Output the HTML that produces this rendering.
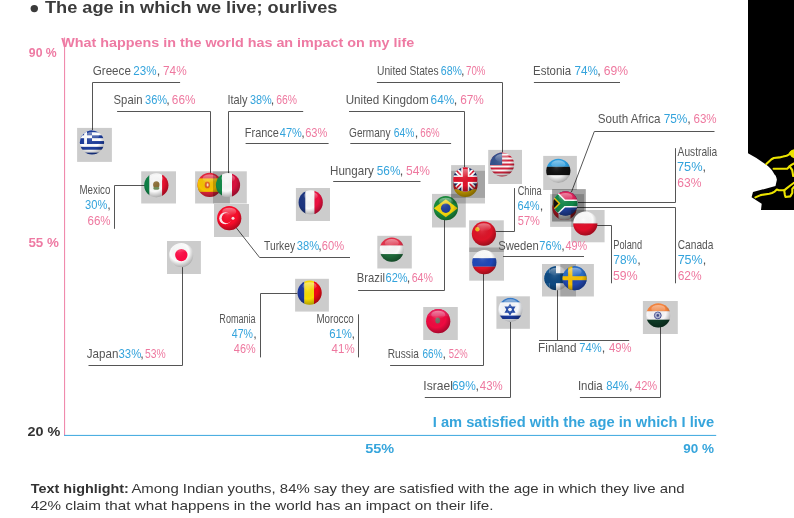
<!DOCTYPE html><html><head><meta charset="utf-8"><style>html,body{margin:0;padding:0;background:#fff;width:794px;height:518px;overflow:hidden}svg{display:block;font-family:"Liberation Sans",sans-serif;will-change:transform}</style></head><body>
<svg width="794" height="518" viewBox="0 0 794 518">
<defs><clipPath id="cc"><circle r="12.1"/></clipPath><radialGradient id="shade" cx="0.42" cy="0.36" r="0.66"><stop offset="0" stop-color="#fff" stop-opacity="0.12"/><stop offset="0.6" stop-color="#000" stop-opacity="0"/><stop offset="1" stop-color="#000" stop-opacity="0.32"/></radialGradient><linearGradient id="hl" x1="0" y1="0" x2="0" y2="1"><stop offset="0" stop-color="#fff" stop-opacity="0.45"/><stop offset="1" stop-color="#fff" stop-opacity="0"/></linearGradient></defs>
<circle cx="34.3" cy="8.6" r="3.7" fill="#3b3b3b"/>
<rect x="64.1" y="37.5" width="1" height="398.2" fill="#ef7fa5"/>
<rect x="64.1" y="434.9" width="652.1" height="1" fill="#3aa7de"/>
<g fill="none" stroke="#555555" stroke-width="1" stroke-linecap="square">
<path d="M92.50,130.00 L92.50,82.50 L179.60,82.50"/>
<path d="M117.60,111.50 L210.50,111.50 L210.50,174.00"/>
<path d="M302.70,111.50 L228.50,111.50 L228.50,174.00"/>
<path d="M246.10,143.50 L328.10,143.50"/>
<path d="M350.80,143.50 L450.60,143.50"/>
<path d="M349.50,111.50 L464.50,111.50 L464.50,168.00"/>
<path d="M377.40,82.50 L502.50,82.50 L502.50,153.00"/>
<path d="M534.40,82.50 L619.50,82.50"/>
<path d="M714.00,131.50 L594.30,131.50 L571.60,191.60"/>
<path d="M333.70,181.50 L420.00,181.50"/>
<path d="M145.00,185.50 L114.50,185.50 L114.50,228.30"/>
<path d="M236.00,227.50 L259.60,257.50 L349.50,257.50"/>
<path d="M182.50,267.00 L182.50,365.50 L89.00,365.50"/>
<path d="M444.50,219.00 L444.50,290.50 L358.60,290.50"/>
<path d="M495.90,231.50 L514.50,231.50 L514.50,188.60"/>
<path d="M578.00,202.50 L675.50,202.50 L675.50,148.70"/>
<path d="M577.00,207.50 L675.50,207.50 L675.50,282.80"/>
<path d="M597.00,225.50 L611.50,225.50 L611.50,282.80"/>
<path d="M503.60,256.50 L583.50,256.50"/>
<path d="M483.50,274.00 L483.50,365.50 L390.60,365.50"/>
<path d="M296.90,293.50 L260.50,293.50 L260.50,356.90"/>
<path d="M358.50,314.80 L358.50,356.90"/>
<path d="M510.50,321.00 L510.50,397.50 L425.30,397.50"/>
<path d="M557.50,290.00 L557.50,340.40"/>
<path d="M539.60,340.50 L628.70,340.50"/>
<path d="M660.50,327.00 L660.50,397.50 L580.40,397.50"/>
</g>
<rect x="77.1" y="127.9" width="34.8" height="34.0" fill="#000" fill-opacity="0.2"/><g transform="translate(92.00,142.50)"><g clip-path="url(#cc)"><rect x="-13" y="-13" width="26" height="26" fill="#fff"/><rect x="-13" y="-13.00" width="26" height="2.89" fill="#1d3d9c"/><rect x="-13" y="-7.22" width="26" height="2.89" fill="#1d3d9c"/><rect x="-13" y="-1.44" width="26" height="2.89" fill="#1d3d9c"/><rect x="-13" y="4.33" width="26" height="2.89" fill="#1d3d9c"/><rect x="-13" y="10.11" width="26" height="2.89" fill="#1d3d9c"/><rect x="-13" y="-13" width="13" height="14.4" fill="#1d3d9c"/><rect x="-13" y="-7.2" width="13" height="2.9" fill="#fff"/><rect x="-7.9" y="-13" width="2.9" height="14.4" fill="#fff"/></g><circle r="12.1" fill="url(#shade)"/><ellipse cx="0" cy="-6.5" rx="7" ry="4" fill="url(#hl)"/></g>
<rect x="141.2" y="171.3" width="34.8" height="32.2" fill="#000" fill-opacity="0.2"/><g transform="translate(156.30,185.30)"><g clip-path="url(#cc)"><rect x="-13" y="-13" width="6.2" height="26" fill="#0f7f45"/><rect x="-6.8" y="-13" width="12.6" height="26" fill="#f8f8f8"/><rect x="5.8" y="-13" width="7.2" height="26" fill="#e8102e"/><ellipse cx="0" cy="-0.5" rx="3.2" ry="3.6" fill="#8a6a30"/><ellipse cx="0" cy="3" rx="3" ry="1.5" fill="#6f8f5a"/></g><circle r="12.1" fill="url(#shade)"/><ellipse cx="0" cy="-6.5" rx="7" ry="4" fill="url(#hl)"/></g>
<rect x="195.1" y="171.3" width="34.8" height="32.2" fill="#000" fill-opacity="0.2"/><g transform="translate(209.60,184.90)"><g clip-path="url(#cc)"><rect x="-13" y="-13" width="26" height="26" fill="#e4243c"/><rect x="-13" y="-6.5" width="26" height="13.5" fill="#f6c200"/><ellipse cx="-2.3" cy="0" rx="2.6" ry="3.4" fill="#e05a1a"/><ellipse cx="-2" cy="0" rx="1" ry="1.6" fill="#f8e0c0"/></g><circle r="12.1" fill="url(#shade)"/><ellipse cx="0" cy="-6.5" rx="7" ry="4" fill="url(#hl)"/></g>
<rect x="213.0" y="171.3" width="33.8" height="32.2" fill="#000" fill-opacity="0.2"/><g transform="translate(228.00,185.00)"><g clip-path="url(#cc)"><rect x="-13" y="-13" width="7.0" height="26" fill="#128a48"/><rect x="-6" y="-13" width="10.0" height="26" fill="#fafafa"/><rect x="4" y="-13" width="9.0" height="26" fill="#d8123e"/></g><circle r="12.1" fill="url(#shade)"/><ellipse cx="0" cy="-6.5" rx="7" ry="4" fill="url(#hl)"/></g>
<rect x="214.0" y="204.0" width="35.0" height="33.0" fill="#000" fill-opacity="0.2"/><g transform="translate(229.20,218.20)"><g clip-path="url(#cc)"><rect x="-13" y="-13" width="26" height="26" fill="#f80c2a"/><circle cx="-4" cy="0" r="6" fill="#fde6ea"/><circle cx="-2.4" cy="0" r="5.1" fill="#f80c2a"/><circle cx="3.8" cy="0" r="1.5" fill="#fde6ea"/></g><circle r="12.1" fill="url(#shade)"/><ellipse cx="0" cy="-6.5" rx="7" ry="4" fill="url(#hl)"/></g>
<rect x="167.0" y="241.0" width="33.9" height="33.0" fill="#000" fill-opacity="0.2"/><g transform="translate(181.30,255.10)"><g clip-path="url(#cc)"><rect x="-13" y="-13" width="26" height="26" fill="#fbfbfb"/><circle cx="0" cy="0" r="6.2" fill="#ff0a44"/></g><circle r="12.1" fill="url(#shade)"/><ellipse cx="0" cy="-6.5" rx="7" ry="4" fill="url(#hl)"/></g>
<rect x="295.9" y="188.0" width="34.1" height="33.0" fill="#000" fill-opacity="0.2"/><g transform="translate(310.70,202.40)"><g clip-path="url(#cc)"><rect x="-13" y="-13" width="7.8" height="26" fill="#1c3580"/><rect x="-5.2" y="-13" width="9.0" height="26" fill="#fafafa"/><rect x="3.8" y="-13" width="9.2" height="26" fill="#ec1040"/></g><circle r="12.1" fill="url(#shade)"/><ellipse cx="0" cy="-6.5" rx="7" ry="4" fill="url(#hl)"/></g>
<rect x="377.3" y="235.8" width="34.5" height="32.7" fill="#000" fill-opacity="0.2"/><g transform="translate(391.80,249.60)"><g clip-path="url(#cc)"><rect x="-13" y="-13" width="26" height="9" fill="#e3324b"/><rect x="-13" y="-4" width="26" height="8.5" fill="#fafafa"/><rect x="-13" y="4.5" width="26" height="9" fill="#1e6a3a"/></g><circle r="12.1" fill="url(#shade)"/><ellipse cx="0" cy="-6.5" rx="7" ry="4" fill="url(#hl)"/></g>
<rect x="432.0" y="193.9" width="33.8" height="33.6" fill="#000" fill-opacity="0.2"/><g transform="translate(445.80,208.20)"><g clip-path="url(#cc)"><rect x="-13" y="-13" width="26" height="26" fill="#1a8a3c"/><polygon points="0,-9 12,0 0,9 -12,0" fill="#f2d40c"/><circle cx="0" cy="0" r="4.8" fill="#1f3f9a"/></g><circle r="12.1" fill="url(#shade)"/><ellipse cx="0" cy="-6.5" rx="7" ry="4" fill="url(#hl)"/></g>
<rect x="451.1" y="170.8" width="33.9" height="32.7" fill="#000" fill-opacity="0.2"/><g transform="translate(465.50,185.00)"><g clip-path="url(#cc)"><rect x="-13" y="-13" width="26" height="9" fill="#222"/><rect x="-13" y="-4" width="26" height="8.5" fill="#d81920"/><rect x="-13" y="4.5" width="26" height="9" fill="#e8b800"/></g><circle r="12.1" fill="url(#shade)"/><ellipse cx="0" cy="-6.5" rx="7" ry="4" fill="url(#hl)"/></g>
<rect x="451.1" y="165.1" width="33.9" height="32.8" fill="#000" fill-opacity="0.2"/><g transform="translate(465.30,179.40)"><g clip-path="url(#cc)"><rect x="-13" y="-13" width="26" height="26" fill="#1a2c66"/><path d="M-13,-13 L13,13 M13,-13 L-13,13" stroke="#fff" stroke-width="5"/><path d="M-13,-13 L13,13 M13,-13 L-13,13" stroke="#e0142b" stroke-width="1.6"/><rect x="-13" y="-4" width="26" height="8" fill="#fff"/><rect x="-4" y="-13" width="8" height="26" fill="#fff"/><rect x="-13" y="-2.5" width="26" height="5" fill="#e0142b"/><rect x="-2.5" y="-13" width="5" height="26" fill="#e0142b"/></g><circle r="12.1" fill="url(#shade)"/><ellipse cx="0" cy="-6.5" rx="7" ry="4" fill="url(#hl)"/></g>
<rect x="488.2" y="149.9" width="33.8" height="34.1" fill="#000" fill-opacity="0.2"/><g transform="translate(502.10,164.50)"><g clip-path="url(#cc)"><rect x="-13" y="-13" width="26" height="26" fill="#fafafa"/><rect x="-13" y="-13.0" width="26" height="2" fill="#d3223c"/><rect x="-13" y="-9.0" width="26" height="2" fill="#d3223c"/><rect x="-13" y="-5.0" width="26" height="2" fill="#d3223c"/><rect x="-13" y="-1.0" width="26" height="2" fill="#d3223c"/><rect x="-13" y="3.0" width="26" height="2" fill="#d3223c"/><rect x="-13" y="7.0" width="26" height="2" fill="#d3223c"/><rect x="-13" y="11.0" width="26" height="2" fill="#d3223c"/><rect x="-13" y="-13" width="13" height="13.5" fill="#34508c"/></g><circle r="12.1" fill="url(#shade)"/><ellipse cx="0" cy="-6.5" rx="7" ry="4" fill="url(#hl)"/></g>
<rect x="543.2" y="155.9" width="33.7" height="34.1" fill="#000" fill-opacity="0.2"/><g transform="translate(558.30,170.80)"><g clip-path="url(#cc)"><rect x="-13" y="-13" width="26" height="9" fill="#2a9de0"/><rect x="-13" y="-4" width="26" height="8.5" fill="#111"/><rect x="-13" y="4.5" width="26" height="9" fill="#f5f5f5"/></g><circle r="12.1" fill="url(#shade)"/><ellipse cx="0" cy="-6.5" rx="7" ry="4" fill="url(#hl)"/></g>
<rect x="550.1" y="194.1" width="33.9" height="32.8" fill="#000" fill-opacity="0.2"/><g transform="translate(564.50,208.00)"><g clip-path="url(#cc)"><rect x="-13" y="-13" width="26" height="26" fill="#e0202c"/><rect x="-6" y="-13" width="12" height="26" fill="#fafafa"/><circle cx="0" cy="0" r="3" fill="#e0202c"/></g><circle r="12.1" fill="url(#shade)"/><ellipse cx="0" cy="-6.5" rx="7" ry="4" fill="url(#hl)"/></g>
<rect x="552.1" y="189.1" width="33.7" height="32.4" fill="#000" fill-opacity="0.2"/><g transform="translate(565.50,203.40)"><g clip-path="url(#cc)"><rect x="-13" y="-13" width="26" height="26" fill="#1c2f7f"/><circle cx="5" cy="4" r="1" fill="#fff"/></g><circle r="12.1" fill="url(#shade)"/><ellipse cx="0" cy="-6.5" rx="7" ry="4" fill="url(#hl)"/></g>
<rect x="552.1" y="189.1" width="33.7" height="32.4" fill="#000" fill-opacity="0.2"/><g transform="translate(565.50,203.40)"><g clip-path="url(#cc)"><rect x="-13" y="-13" width="26" height="13" fill="#e0245a"/><rect x="-13" y="0" width="26" height="13" fill="#1f3e96"/><path d="M-14,-12 L-2,0 L-14,12 M-2,0 L14,0" stroke="#fff" stroke-width="8" fill="none"/><path d="M-14,-12 L-2,0 L-14,12 M-2,0 L14,0" stroke="#12884a" stroke-width="5" fill="none"/><polygon points="-13,-8 -5,0 -13,8" fill="#f2c200"/><polygon points="-13,-6 -7,0 -13,6" fill="#111"/></g><circle r="12.1" fill="url(#shade)"/><ellipse cx="0" cy="-6.5" rx="7" ry="4" fill="url(#hl)"/></g>
<rect x="571.2" y="210.0" width="33.4" height="32.3" fill="#000" fill-opacity="0.2"/><g transform="translate(585.30,223.50)"><g clip-path="url(#cc)"><rect x="-13" y="-13" width="26" height="13" fill="#fafafa"/><rect x="-13" y="0" width="26" height="13" fill="#e20f2a"/></g><circle r="12.1" fill="url(#shade)"/><ellipse cx="0" cy="-6.5" rx="7" ry="4" fill="url(#hl)"/></g>
<rect x="469.1" y="220.3" width="34.7" height="31.7" fill="#000" fill-opacity="0.2"/><g transform="translate(483.90,233.70)"><g clip-path="url(#cc)"><rect x="-13" y="-13" width="26" height="26" fill="#dd1428"/><circle cx="-6.5" cy="-4.5" r="2.2" fill="#f2b61a"/></g><circle r="12.1" fill="url(#shade)"/><ellipse cx="0" cy="-6.5" rx="7" ry="4" fill="url(#hl)"/></g>
<rect x="469.2" y="247.5" width="34.8" height="33.2" fill="#000" fill-opacity="0.2"/><g transform="translate(484.30,262.20)"><g clip-path="url(#cc)"><rect x="-13" y="-13" width="26" height="9" fill="#fafafa"/><rect x="-13" y="-4" width="26" height="8.5" fill="#1f48b8"/><rect x="-13" y="4.5" width="26" height="9" fill="#e11427"/></g><circle r="12.1" fill="url(#shade)"/><ellipse cx="0" cy="-6.5" rx="7" ry="4" fill="url(#hl)"/></g>
<rect x="542.0" y="264.0" width="34.0" height="32.5" fill="#000" fill-opacity="0.2"/><g transform="translate(556.50,278.20)"><g clip-path="url(#cc)"><rect x="-13" y="-13" width="26" height="26" fill="#f4f4f4"/><rect x="-13" y="-13" width="6" height="26" fill="#1a5c96"/><rect x="-13" y="-5" width="26" height="10" fill="#0e4a82"/><rect x="-7" y="-13" width="6.5" height="26" fill="#0e4a82"/></g><circle r="12.1" fill="url(#shade)"/><ellipse cx="0" cy="-6.5" rx="7" ry="4" fill="url(#hl)"/></g>
<rect x="560.3" y="264.0" width="33.6" height="32.5" fill="#000" fill-opacity="0.2"/><g transform="translate(574.60,278.20)"><g clip-path="url(#cc)"><rect x="-13" y="-13" width="26" height="26" fill="#2a6cc4"/><rect x="-13" y="2" width="26" height="11" fill="#2248b0"/><rect x="-13" y="-2" width="26" height="4" fill="#f6c000"/><rect x="-6.5" y="-13" width="4.3" height="26" fill="#f6c000"/></g><circle r="12.1" fill="url(#shade)"/><ellipse cx="0" cy="-6.5" rx="7" ry="4" fill="url(#hl)"/></g>
<rect x="295.1" y="278.8" width="33.8" height="32.8" fill="#000" fill-opacity="0.2"/><g transform="translate(309.60,292.70)"><g clip-path="url(#cc)"><rect x="-13" y="-13" width="7.8" height="26" fill="#1c38a0"/><rect x="-5.2" y="-13" width="9.6" height="26" fill="#f8dc00"/><rect x="4.4" y="-13" width="8.6" height="26" fill="#f00a14"/></g><circle r="12.1" fill="url(#shade)"/><ellipse cx="0" cy="-6.5" rx="7" ry="4" fill="url(#hl)"/></g>
<rect x="423.2" y="307.0" width="34.6" height="33.0" fill="#000" fill-opacity="0.2"/><g transform="translate(438.20,321.20)"><g clip-path="url(#cc)"><rect x="-13" y="-13" width="26" height="26" fill="#ee0a40"/><rect x="-13" y="-13" width="26" height="8" fill="#e8205a"/><ellipse cx="-0.5" cy="-0.8" rx="2.4" ry="3" fill="#6a6f62"/></g><circle r="12.1" fill="url(#shade)"/><ellipse cx="0" cy="-6.5" rx="7" ry="4" fill="url(#hl)"/></g>
<rect x="496.4" y="296.3" width="33.5" height="32.5" fill="#000" fill-opacity="0.2"/><g transform="translate(510.50,309.80)"><g clip-path="url(#cc)"><rect x="-13" y="-13" width="26" height="26" fill="#f6f8fc"/><rect x="-13" y="-13" width="26" height="5.5" fill="#3a7cc8"/><rect x="-13" y="5.8" width="26" height="3.4" fill="#1a3aa0"/><polygon points="-0.5,-5 3.8,2.2 -4.8,2.2" fill="none" stroke="#2048a8" stroke-width="1.4"/><polygon points="-0.5,4.6 3.8,-2.6 -4.8,-2.6" fill="none" stroke="#2048a8" stroke-width="1.4"/></g><circle r="12.1" fill="url(#shade)"/><ellipse cx="0" cy="-6.5" rx="7" ry="4" fill="url(#hl)"/></g>
<rect x="642.9" y="301.0" width="34.9" height="33.0" fill="#000" fill-opacity="0.2"/><g transform="translate(658.30,315.40)"><g clip-path="url(#cc)"><rect x="-13" y="-13" width="26" height="9" fill="#f6843e"/><rect x="-13" y="-4" width="26" height="8.3" fill="#f8f6f8"/><rect x="-13" y="4.3" width="26" height="9" fill="#0e3a26"/><circle cx="-0.5" cy="0" r="3.4" fill="#b8bcd8" stroke="#4a5294" stroke-width="1"/><circle cx="-0.5" cy="0" r="1.3" fill="#3a4488"/></g><circle r="12.1" fill="url(#shade)"/><ellipse cx="0" cy="-6.5" rx="7" ry="4" fill="url(#hl)"/></g>
<text class="tg" x="92.72" y="74.8" font-size="12.6" fill="#555555" textLength="38.15" lengthAdjust="spacingAndGlyphs">Greece</text>
<text class="tb" x="133.34" y="74.8" font-size="12.6" fill="#33a3dc" textLength="23.23" lengthAdjust="spacingAndGlyphs">23%</text>
<text class="tp" x="163.05" y="74.8" font-size="12.6" fill="#ee789f" textLength="23.61" lengthAdjust="spacingAndGlyphs">74%</text>
<text class="tg" x="113.59" y="104.4" font-size="12.6" fill="#555555" textLength="28.86" lengthAdjust="spacingAndGlyphs">Spain</text>
<text class="tb" x="145.06" y="104.4" font-size="12.6" fill="#33a3dc" textLength="22.13" lengthAdjust="spacingAndGlyphs">36%</text>
<text class="tp" x="171.83" y="104.4" font-size="12.6" fill="#ee789f" textLength="23.63" lengthAdjust="spacingAndGlyphs">66%</text>
<text class="tg" x="227.39" y="104.4" font-size="12.6" fill="#555555" textLength="20.15" lengthAdjust="spacingAndGlyphs">Italy</text>
<text class="tb" x="249.89" y="104.4" font-size="12.6" fill="#33a3dc" textLength="21.83" lengthAdjust="spacingAndGlyphs">38%</text>
<text class="tp" x="276.29" y="104.4" font-size="12.6" fill="#ee789f" textLength="20.81" lengthAdjust="spacingAndGlyphs">66%</text>
<text class="tg" x="244.83" y="137.2" font-size="12.6" fill="#555555" textLength="34.06" lengthAdjust="spacingAndGlyphs">France</text>
<text class="tb" x="279.75" y="137.2" font-size="12.6" fill="#33a3dc" textLength="22.09" lengthAdjust="spacingAndGlyphs">47%</text>
<text class="tp" x="305.16" y="137.2" font-size="12.6" fill="#ee789f" textLength="22.18" lengthAdjust="spacingAndGlyphs">63%</text>
<text class="tg" x="349.07" y="137.2" font-size="12.6" fill="#555555" textLength="41.42" lengthAdjust="spacingAndGlyphs">Germany</text>
<text class="tb" x="393.85" y="137.2" font-size="12.6" fill="#33a3dc" textLength="20.64" lengthAdjust="spacingAndGlyphs">64%</text>
<text class="tp" x="420.33" y="137.2" font-size="12.6" fill="#ee789f" textLength="19.36" lengthAdjust="spacingAndGlyphs">66%</text>
<text class="tg" x="345.64" y="103.8" font-size="12.6" fill="#555555" textLength="82.99" lengthAdjust="spacingAndGlyphs">United Kingdom</text>
<text class="tb" x="430.60" y="103.8" font-size="12.6" fill="#33a3dc" textLength="23.61" lengthAdjust="spacingAndGlyphs">64%</text>
<text class="tp" x="460.17" y="103.8" font-size="12.6" fill="#ee789f" textLength="23.67" lengthAdjust="spacingAndGlyphs">67%</text>
<text class="tg" x="377.03" y="74.7" font-size="12.6" fill="#555555" textLength="61.52" lengthAdjust="spacingAndGlyphs">United States</text>
<text class="tb" x="440.87" y="74.7" font-size="12.6" fill="#33a3dc" textLength="21.15" lengthAdjust="spacingAndGlyphs">68%</text>
<text class="tp" x="466.04" y="74.7" font-size="12.6" fill="#ee789f" textLength="19.39" lengthAdjust="spacingAndGlyphs">70%</text>
<text class="tg" x="533.00" y="75.0" font-size="12.6" fill="#555555" textLength="38.26" lengthAdjust="spacingAndGlyphs">Estonia</text>
<text class="tb" x="574.50" y="75.0" font-size="12.6" fill="#33a3dc" textLength="23.32" lengthAdjust="spacingAndGlyphs">74%</text>
<text class="tp" x="603.84" y="75.0" font-size="12.6" fill="#ee789f" textLength="24.30" lengthAdjust="spacingAndGlyphs">69%</text>
<text class="tg" x="597.72" y="122.7" font-size="12.6" fill="#555555" textLength="62.76" lengthAdjust="spacingAndGlyphs">South Africa</text>
<text class="tb" x="663.63" y="122.7" font-size="12.6" fill="#33a3dc" textLength="23.80" lengthAdjust="spacingAndGlyphs">75%</text>
<text class="tp" x="693.47" y="122.7" font-size="12.6" fill="#ee789f" textLength="23.20" lengthAdjust="spacingAndGlyphs">63%</text>
<text class="tg" x="330.04" y="175.1" font-size="12.6" fill="#555555" textLength="43.87" lengthAdjust="spacingAndGlyphs">Hungary</text>
<text class="tb" x="376.81" y="175.1" font-size="12.6" fill="#33a3dc" textLength="23.68" lengthAdjust="spacingAndGlyphs">56%</text>
<text class="tp" x="405.99" y="175.1" font-size="12.6" fill="#ee789f" textLength="24.04" lengthAdjust="spacingAndGlyphs">54%</text>
<text class="tg" x="264.02" y="250.2" font-size="12.6" fill="#555555" textLength="31.05" lengthAdjust="spacingAndGlyphs">Turkey</text>
<text class="tb" x="296.81" y="250.2" font-size="12.6" fill="#33a3dc" textLength="22.44" lengthAdjust="spacingAndGlyphs">38%</text>
<text class="tp" x="321.77" y="250.2" font-size="12.6" fill="#ee789f" textLength="22.37" lengthAdjust="spacingAndGlyphs">60%</text>
<text class="tg" x="356.81" y="282.4" font-size="12.6" fill="#555555" textLength="28.14" lengthAdjust="spacingAndGlyphs">Brazil</text>
<text class="tb" x="385.56" y="282.4" font-size="12.6" fill="#33a3dc" textLength="22.09" lengthAdjust="spacingAndGlyphs">62%</text>
<text class="tp" x="411.68" y="282.4" font-size="12.6" fill="#ee789f" textLength="21.29" lengthAdjust="spacingAndGlyphs">64%</text>
<text class="tg" x="498.15" y="249.8" font-size="12.6" fill="#555555" textLength="40.61" lengthAdjust="spacingAndGlyphs">Sweden</text>
<text class="tb" x="539.36" y="249.8" font-size="12.6" fill="#33a3dc" textLength="22.15" lengthAdjust="spacingAndGlyphs">76%</text>
<text class="tp" x="565.50" y="249.8" font-size="12.6" fill="#ee789f" textLength="21.70" lengthAdjust="spacingAndGlyphs">49%</text>
<text class="tg" x="86.78" y="358.2" font-size="12.6" fill="#555555" textLength="31.61" lengthAdjust="spacingAndGlyphs">Japan</text>
<text class="tb" x="118.54" y="358.2" font-size="12.6" fill="#33a3dc" textLength="22.70" lengthAdjust="spacingAndGlyphs">33%</text>
<text class="tp" x="145.09" y="358.2" font-size="12.6" fill="#ee789f" textLength="20.75" lengthAdjust="spacingAndGlyphs">53%</text>
<text class="tg" x="387.80" y="358.0" font-size="12.6" fill="#555555" textLength="30.99" lengthAdjust="spacingAndGlyphs">Russia</text>
<text class="tb" x="422.52" y="358.0" font-size="12.6" fill="#33a3dc" textLength="20.09" lengthAdjust="spacingAndGlyphs">66%</text>
<text class="tp" x="448.70" y="358.0" font-size="12.6" fill="#ee789f" textLength="18.97" lengthAdjust="spacingAndGlyphs">52%</text>
<text class="tg" x="423.29" y="390.0" font-size="12.6" fill="#555555" textLength="29.56" lengthAdjust="spacingAndGlyphs">Israel</text>
<text class="tb" x="451.92" y="390.0" font-size="12.6" fill="#33a3dc" textLength="23.89" lengthAdjust="spacingAndGlyphs">69%</text>
<text class="tp" x="479.84" y="390.0" font-size="12.6" fill="#ee789f" textLength="22.86" lengthAdjust="spacingAndGlyphs">43%</text>
<text class="tg" x="538.11" y="351.8" font-size="12.6" fill="#555555" textLength="38.54" lengthAdjust="spacingAndGlyphs">Finland</text>
<text class="tb" x="579.36" y="351.8" font-size="12.6" fill="#33a3dc" textLength="22.40" lengthAdjust="spacingAndGlyphs">74%</text>
<text class="tp" x="608.98" y="351.8" font-size="12.6" fill="#ee789f" textLength="22.53" lengthAdjust="spacingAndGlyphs">49%</text>
<text class="tg" x="577.88" y="389.5" font-size="12.6" fill="#555555" textLength="24.79" lengthAdjust="spacingAndGlyphs">India</text>
<text class="tb" x="606.34" y="389.5" font-size="12.6" fill="#33a3dc" textLength="22.44" lengthAdjust="spacingAndGlyphs">84%</text>
<text class="tp" x="635.01" y="389.5" font-size="12.6" fill="#ee789f" textLength="22.21" lengthAdjust="spacingAndGlyphs">42%</text>
<text class="tg" x="79.51" y="193.6" font-size="12.6" fill="#555555" textLength="30.82" lengthAdjust="spacingAndGlyphs">Mexico</text>
<text class="tb" x="85.10" y="209.4" font-size="12.6" fill="#33a3dc" textLength="22.27" lengthAdjust="spacingAndGlyphs">30%</text>
<text class="tp" x="87.48" y="224.8" font-size="12.6" fill="#ee789f" textLength="23.16" lengthAdjust="spacingAndGlyphs">66%</text>
<text class="tg" x="517.68" y="194.6" font-size="12.6" fill="#555555" textLength="24.00" lengthAdjust="spacingAndGlyphs">China</text>
<text class="tb" x="517.50" y="209.6" font-size="12.6" fill="#33a3dc" textLength="22.12" lengthAdjust="spacingAndGlyphs">64%</text>
<text class="tp" x="517.77" y="225.4" font-size="12.6" fill="#ee789f" textLength="22.23" lengthAdjust="spacingAndGlyphs">57%</text>
<text class="tg" x="677.62" y="155.7" font-size="12.6" fill="#555555" textLength="39.62" lengthAdjust="spacingAndGlyphs">Australia</text>
<text class="tb" x="676.94" y="171.0" font-size="12.6" fill="#33a3dc" textLength="25.56" lengthAdjust="spacingAndGlyphs">75%</text>
<text class="tp" x="677.34" y="186.9" font-size="12.6" fill="#ee789f" textLength="24.22" lengthAdjust="spacingAndGlyphs">63%</text>
<text class="tg" x="613.30" y="248.7" font-size="12.6" fill="#555555" textLength="28.76" lengthAdjust="spacingAndGlyphs">Poland</text>
<text class="tb" x="613.35" y="263.7" font-size="12.6" fill="#33a3dc" textLength="23.77" lengthAdjust="spacingAndGlyphs">78%</text>
<text class="tp" x="613.05" y="279.5" font-size="12.6" fill="#ee789f" textLength="24.51" lengthAdjust="spacingAndGlyphs">59%</text>
<text class="tg" x="677.80" y="248.7" font-size="12.6" fill="#555555" textLength="35.54" lengthAdjust="spacingAndGlyphs">Canada</text>
<text class="tb" x="677.66" y="263.7" font-size="12.6" fill="#33a3dc" textLength="25.06" lengthAdjust="spacingAndGlyphs">75%</text>
<text class="tp" x="677.64" y="279.5" font-size="12.6" fill="#ee789f" textLength="23.96" lengthAdjust="spacingAndGlyphs">62%</text>
<text class="tg" x="219.37" y="322.6" font-size="12.6" fill="#555555" textLength="36.16" lengthAdjust="spacingAndGlyphs">Romania</text>
<text class="tb" x="231.77" y="337.8" font-size="12.6" fill="#33a3dc" textLength="21.20" lengthAdjust="spacingAndGlyphs">47%</text>
<text class="tp" x="233.84" y="353.4" font-size="12.6" fill="#ee789f" textLength="21.77" lengthAdjust="spacingAndGlyphs">46%</text>
<text class="tg" x="316.38" y="322.6" font-size="12.6" fill="#555555" textLength="37.40" lengthAdjust="spacingAndGlyphs">Morocco</text>
<text class="tb" x="329.13" y="337.8" font-size="12.6" fill="#33a3dc" textLength="22.81" lengthAdjust="spacingAndGlyphs">61%</text>
<text class="tp" x="331.61" y="353.4" font-size="12.6" fill="#ee789f" textLength="22.99" lengthAdjust="spacingAndGlyphs">41%</text>
<text class="tt" x="44.91" y="13.2" font-size="15.8" font-weight="bold" fill="#3b3b3b" textLength="292.55" lengthAdjust="spacingAndGlyphs">The age in which we live; ourlives</text>
<text class="ty" x="61.21" y="46.6" font-size="13.2" font-weight="bold" fill="#ee7aa3" textLength="353.09" lengthAdjust="spacingAndGlyphs">What happens in the world has an impact on my life</text>
<text class="ty" x="28.84" y="56.8" font-size="12.3" font-weight="bold" fill="#ee7aa3" textLength="27.90" lengthAdjust="spacingAndGlyphs">90 %</text>
<text class="ty" x="28.45" y="247.0" font-size="12.3" font-weight="bold" fill="#ee7aa3" textLength="30.45" lengthAdjust="spacingAndGlyphs">55 %</text>
<text class="td" x="27.47" y="435.9" font-size="12.7" font-weight="bold" fill="#333333" textLength="32.81" lengthAdjust="spacingAndGlyphs">20 %</text>
<text class="tx" x="432.74" y="426.8" font-size="13.8" font-weight="bold" fill="#36a5dc" textLength="281.47" lengthAdjust="spacingAndGlyphs">I am satisfied with the age in which I live</text>
<text class="tx" x="365.28" y="453.1" font-size="12.6" font-weight="bold" fill="#36a5dc" textLength="28.96" lengthAdjust="spacingAndGlyphs">55%</text>
<text class="tx" x="683.15" y="452.8" font-size="12.3" font-weight="bold" fill="#36a5dc" textLength="30.74" lengthAdjust="spacingAndGlyphs">90 %</text>
<text class="td" x="30.89" y="492.7" font-size="13.1" font-weight="bold" fill="#333333" textLength="97.97" lengthAdjust="spacingAndGlyphs">Text highlight:</text>
<text class="te" x="131.41" y="492.7" font-size="13.1" fill="#363636" textLength="553.16" lengthAdjust="spacingAndGlyphs">Among Indian youths, 84% say they are satisfied with the age in which they live and</text>
<text class="te" x="30.65" y="509.5" font-size="13.1" fill="#363636" textLength="462.86" lengthAdjust="spacingAndGlyphs">42% claim that what happens in the world has an impact on their life.</text>
<text class="tc" x="156.83" y="74.8" font-size="12.6" fill="#555555">,</text>
<text class="tc" x="166.33" y="104.4" font-size="12.6" fill="#555555">,</text>
<text class="tc" x="270.73" y="104.4" font-size="12.6" fill="#555555">,</text>
<text class="tc" x="301.23" y="137.2" font-size="12.6" fill="#555555">,</text>
<text class="tc" x="414.63" y="137.2" font-size="12.6" fill="#555555">,</text>
<text class="tc" x="453.73" y="103.8" font-size="12.6" fill="#555555">,</text>
<text class="tc" x="461.03" y="74.7" font-size="12.6" fill="#555555">,</text>
<text class="tc" x="597.33" y="75.0" font-size="12.6" fill="#555555">,</text>
<text class="tc" x="687.23" y="122.7" font-size="12.6" fill="#555555">,</text>
<text class="tc" x="399.63" y="175.1" font-size="12.6" fill="#555555">,</text>
<text class="tc" x="318.23" y="250.2" font-size="12.6" fill="#555555">,</text>
<text class="tc" x="406.73" y="282.4" font-size="12.6" fill="#555555">,</text>
<text class="tc" x="561.23" y="249.8" font-size="12.6" fill="#555555">,</text>
<text class="tc" x="140.33" y="358.2" font-size="12.6" fill="#555555">,</text>
<text class="tc" x="442.43" y="358.0" font-size="12.6" fill="#555555">,</text>
<text class="tc" x="475.53" y="390.0" font-size="12.6" fill="#555555">,</text>
<text class="tc" x="601.73" y="351.8" font-size="12.6" fill="#555555">,</text>
<text class="tc" x="629.03" y="389.5" font-size="12.6" fill="#555555">,</text>
<text class="tc" x="107.33" y="209.4" font-size="12.6" fill="#555555">,</text>
<text class="tc" x="539.63" y="209.6" font-size="12.6" fill="#555555">,</text>
<text class="tc" x="702.53" y="171.0" font-size="12.6" fill="#555555">,</text>
<text class="tc" x="637.13" y="263.7" font-size="12.6" fill="#555555">,</text>
<text class="tc" x="702.73" y="263.7" font-size="12.6" fill="#555555">,</text>
<text class="tc" x="253.13" y="337.8" font-size="12.6" fill="#555555">,</text>
<text class="tc" x="351.53" y="337.8" font-size="12.6" fill="#555555">,</text>
<path d="M748,0 L794,0 L794,210 L761,210 L761.7,203.7 L751.6,197.2 L753,192.1 L775.5,186 L776.9,179.8 Q776,175 774.7,174.7 Q771,168 766,164.6 Q757,158 748,153.3 Z" fill="#000"/>
<g fill="none" stroke="#ece400" stroke-width="2.1" stroke-linejoin="round" stroke-linecap="round"><path d="M766.3,164.1 L771.5,159.2 L773.8,158 L779.6,157.4 L783.1,156.6 L786.6,155.7 L788.9,154.6 L791,152"/><path d="M773.6,168.7 L787.2,168.7 L789.5,166.4 L791.8,164.7 L794,163.5"/><path d="M789.5,166.4 L792.2,170 L793.2,176"/><path d="M755.4,197.4 L760.6,195.1 L769.3,193.7 L772,193 L774.7,191.6 L776.8,189.6 L778.8,190.3 L784.2,190.3 L786.9,188.2 L790.3,185.5 L794,182.8"/><path d="M784.2,190.3 L784.9,195 L785.5,197 L790.3,196.4 L792.3,193 L792.3,188.9 L794,186.9"/></g>
<path d="M789,153.5 L791.2,150.2 L794,149.2 L794,158.3 L791.5,157 Z" fill="#ece400"/>
</svg></body></html>
